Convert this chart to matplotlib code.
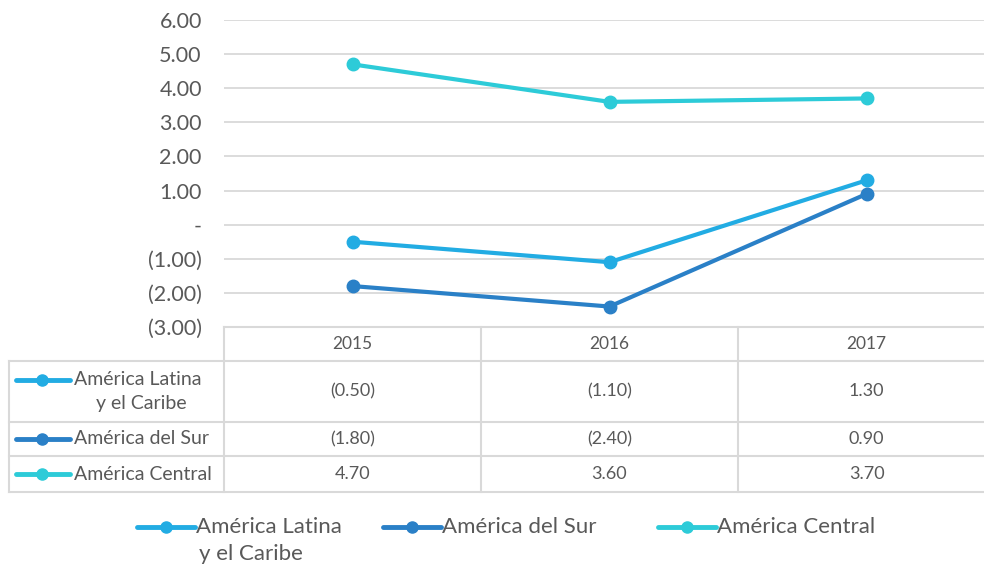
import matplotlib
matplotlib.use("Agg")
import matplotlib.pyplot as plt

plt.rcParams['font.family'] = ['Lato', 'DejaVu Sans']

years = ["2015", "2016", "2017"]
series_names = ["América Latina\ny el Caribe", "América del Sur", "América Central"]
alc = [-0.50, -1.10, 1.30]
sur = [-1.80, -2.40, 0.90]
central = [4.70, 3.60, 3.70]
series_values = [alc, sur, central]
colors = ["#22ACE3", "#2A80C7", "#2DCBD8"]
yticks = [-3, -2, -1, 0, 1, 2, 3, 4, 5, 6]

TXT = "#595959"
GRID = "#D9D9D9"
W, H = 984, 567


def fmt(v):
    if abs(v) < 1e-9:
        return "-"
    if v < 0:
        return "({:.2f})".format(-v)
    return "{:.2f}".format(v)


fig = plt.figure(figsize=(W / 100, H / 100), dpi=100)

# main plot axes (pixel layout)
x0, x1 = 224, 995
ytop, ybot = 20, 327
ax = fig.add_axes([x0 / W, 1 - ybot / H, (x1 - x0) / W, (ybot - ytop) / H])
xs = list(range(len(years)))
for vals, c in zip(series_values, colors):
    ax.plot(xs, vals, color=c, lw=3, marker='o', ms=9, zorder=3, solid_capstyle='round')
ax.set_xlim(-0.5, len(years) - 0.5)
ax.set_ylim(yticks[0], yticks[-1])
ax.set_yticks(yticks)
ax.set_yticklabels([fmt(v) for v in yticks], color=TXT, fontsize=15.5)
ax.tick_params(axis='y', length=0, pad=16)
ax.set_xticks([])
for s in ax.spines.values():
    s.set_visible(False)
ax.grid(axis='y', color=GRID, lw=1.3)
ax.set_axisbelow(True)
ax.patch.set_alpha(0)

# overlay axes in pixel coordinates for table + legend
ov = fig.add_axes([0, 0, 1, 1])
ov.set_xlim(0, W)
ov.set_ylim(H, 0)
ov.axis('off')
ov.patch.set_alpha(0)

colw = (x1 - x0) / len(years)
col_edges = [x0 + i * colw for i in range(len(years) + 1)]
rows_y = [327, 361, 422, 456, 492]
lab_x0 = 9
lc = dict(color=GRID, lw=1.5, zorder=1)
ov.plot([x0, x1], [rows_y[0]] * 2, **lc)
for y in rows_y[1:]:
    ov.plot([lab_x0, x1], [y, y], **lc)
ov.plot([lab_x0, lab_x0], [rows_y[1], rows_y[-1]], **lc)
for xe in col_edges:
    ov.plot([xe, xe], [rows_y[0], rows_y[-1]], **lc)

# header
for i, yr in enumerate(years):
    cx = x0 + (i + 0.5) * colw
    ov.text(cx, (rows_y[0] + rows_y[1]) / 2, yr, ha='center', va='center', color=TXT, fontsize=12.5)

# rows
for r, (name, vals, c) in enumerate(zip(series_names, series_values, colors)):
    ya, yb = rows_y[r + 1], rows_y[r + 2]
    cy = (ya + yb) / 2
    for i, v in enumerate(vals):
        cx = x0 + (i + 0.5) * colw
        ov.text(cx, cy, fmt(v), ha='center', va='center', color=TXT, fontsize=13)
    lines = name.split("\n")
    hy = cy if len(lines) == 1 else cy - 12
    ov.plot([16, 70], [hy, hy], color=c, lw=3.5, solid_capstyle='round', zorder=3)
    ov.plot([42], [hy], marker='o', color=c, ms=8, zorder=4)
    ov.text(74, hy, lines[0], ha='left', va='center', color=TXT, fontsize=14)
    if len(lines) > 1:
        ov.text(96, hy + 24, lines[1], ha='left', va='center', color=TXT, fontsize=14)

# legend
leg_x = [137, 383, 658]
leg_y = 527
for lx, name, c in zip(leg_x, series_names, colors):
    ov.plot([lx, lx + 58], [leg_y, leg_y], color=c, lw=3.5, solid_capstyle='round', zorder=3)
    ov.plot([lx + 29], [leg_y], marker='o', color=c, ms=8, zorder=4)
    lines = name.split("\n")
    ov.text(lx + 59, leg_y, lines[0], ha='left', va='center', color=TXT, fontsize=16)
    if len(lines) > 1:
        ov.text(lx + 62, leg_y + 27, lines[1], ha='left', va='center', color=TXT, fontsize=16)

fig.savefig("out.png", dpi=100)
